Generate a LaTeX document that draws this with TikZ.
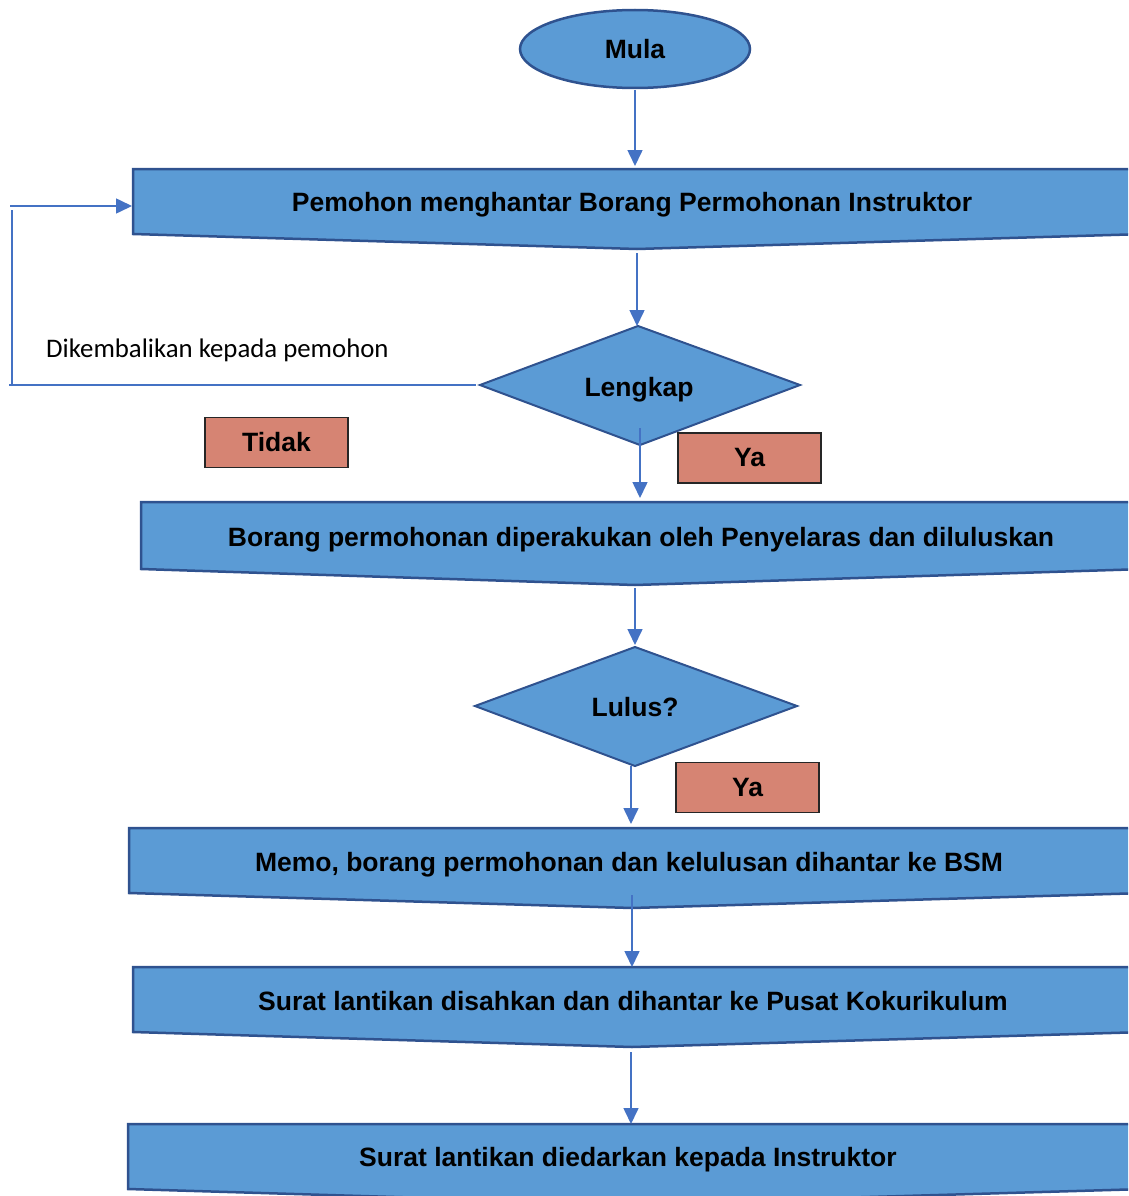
\documentclass[tikz,border=0pt]{standalone}
\usepackage{fontspec}
\setmainfont{Liberation Sans}
\newfontfamily\calibri{Carlito}
\usetikzlibrary{arrows.meta,shapes.geometric}
\definecolor{fillblue}{RGB}{91,155,213}
\definecolor{edgeblue}{RGB}{47,82,143}
\definecolor{arrblue}{RGB}{68,114,196}
\definecolor{salmon}{RGB}{214,132,115}
\tikzset{
  shapebox/.style={fill=fillblue, draw=edgeblue, line width=2.5pt, line join=miter},
  lbl/.style={inner sep=0pt, anchor=base, font=\fontsize{26.5}{30}\selectfont\bfseries},
  arr/.style={draw=arrblue, line width=1.6pt, -{Triangle[width=15pt,length=16pt]}},
  lineonly/.style={draw=arrblue, line width=1.6pt},
  tagbox/.style={fill=salmon, draw=black!85, line width=1.3pt, minimum width=143pt,
    minimum height=50pt, inner sep=0pt, font=\fontsize{26.5}{30}\selectfont\bfseries},
  plain/.style={inner sep=0pt, anchor=base west, font=\fontsize{26.8}{30}\selectfont\calibri}
}
\begin{document}
\begin{tikzpicture}[x=1pt,y=-1pt]
\useasboundingbox (0,0) rectangle (1128,1196);
\clip (0,0) rectangle (1128,1196);

% start
\node[ellipse, shapebox, minimum width=230pt, minimum height=78pt, inner sep=0pt,
  font=\fontsize{26.5}{30}\selectfont\bfseries] (mula) at (635,49) {Mula};

% document shapes
\path[shapebox] (133,169) -- (1145,169) -- (1145,234) -- (637,249) -- (133,234) -- cycle;
\path[shapebox] (141,502) -- (1145,502) -- (1145,569) -- (635,585) -- (141,569) -- cycle;
\path[shapebox] (129,828) -- (1145,828) -- (1145,893) -- (632,908) -- (129,893) -- cycle;
\path[shapebox] (133,967) -- (1145,967) -- (1145,1032) -- (632,1047) -- (133,1032) -- cycle;
\path[shapebox] (128,1124) -- (1145,1124) -- (1145,1189) -- (628,1204) -- (128,1189) -- cycle;

% decisions
\path[shapebox, line width=2pt] (638,326) -- (800,385) -- (640,445) -- (480,385) -- cycle;
\path[shapebox, line width=2pt] (635,647) -- (797,706) -- (635,766) -- (475,706) -- cycle;

% texts
\node[lbl] (d1) at (632,211) {Pemohon menghantar Borang Permohonan Instruktor};
\node[lbl] (lk) at (639,396) {Lengkap};
\node[lbl] (d2) at (641,546) {Borang permohonan diperakukan oleh Penyelaras dan diluluskan};
\node[lbl] (ls) at (635,716) {Lulus?};
\node[lbl] (d3) at (629,871) {Memo, borang permohonan dan kelulusan dihantar ke BSM};
\node[lbl] (d4) at (633,1010) {Surat lantikan disahkan dan dihantar ke Pusat Kokurikulum};
\node[lbl] (d5) at (628,1166) {Surat lantikan diedarkan kepada Instruktor};

\node[plain] (back) at (46,357) {Dikembalikan kepada pemohon};

% tags
\node[tagbox] (tidak) at (276.5,442.5) {Tidak};
\node[tagbox] (ya1) at (749.5,458) {Ya};
\node[tagbox] (ya2) at (747.5,787.5) {Ya};

% connector end points
\coordinate (mulaB) at (635,90);
\coordinate (d1T) at (635,166);
\coordinate (d1B) at (637,253);
\coordinate (lkT) at (637,326);
\coordinate (lkIn) at (640,428);
\coordinate (d2T) at (640,498);
\coordinate (d2B) at (635,588);
\coordinate (lsT) at (635,645);
\coordinate (lsB) at (631,766);
\coordinate (d3T) at (631,824);
\coordinate (d3In) at (632,895);
\coordinate (d4T) at (632,967);
\coordinate (d4B) at (631,1052);
\coordinate (d5T) at (631,1124);
\coordinate (lkW) at (476,385);
\coordinate (loopB) at (9,385);
\coordinate (loopV1) at (12,386);
\coordinate (loopV2) at (12,210);
\coordinate (loopT) at (10,206);
\coordinate (d1W) at (132,206);

\draw[arr] (mulaB) -- (d1T);
\draw[arr] (d1B) -- (lkT);
\draw[arr] (lkIn) -- (d2T);
\draw[arr] (d2B) -- (lsT);
\draw[arr] (lsB) -- (d3T);
\draw[arr] (d3In) -- (d4T);
\draw[arr] (d4B) -- (d5T);
% return loop
\draw[lineonly] (lkW) -- (loopB);
\draw[lineonly] (loopV1) -- (loopV2);
\draw[arr] (loopT) -- (d1W);
\end{tikzpicture}
\end{document}
